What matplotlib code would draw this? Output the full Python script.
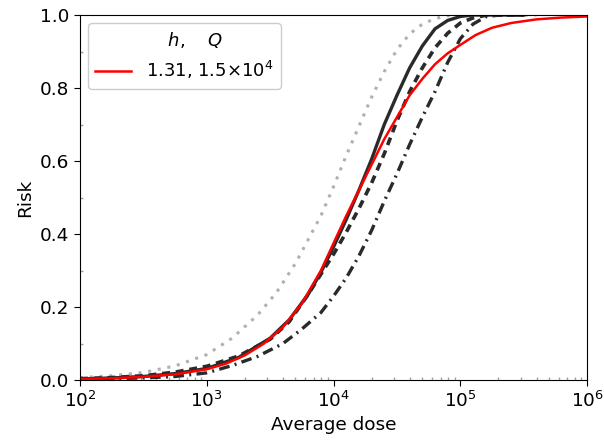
import numpy as np
import matplotlib
matplotlib.use("Agg")
import matplotlib.pyplot as plt

# curves (log10 of average dose, risk)
dotted_logdose = [2.0, 2.25, 2.5, 2.75, 3.0, 3.2, 3.4, 3.55, 3.7, 3.8, 3.9, 4.0, 4.1, 4.2, 4.3, 4.4, 4.5, 4.6, 4.7, 4.8, 4.9, 5.0, 5.6]
dotted_risk = [0.007, 0.012, 0.021, 0.039, 0.07, 0.115, 0.178, 0.24, 0.32, 0.385, 0.45, 0.53, 0.615, 0.695, 0.775, 0.845, 0.905, 0.948, 0.975, 0.99, 0.998, 1.0, 1.0]

solid_logdose = [2.0, 2.25, 2.5, 2.75, 3.0, 3.25, 3.5, 3.65, 3.8, 3.9, 4.0, 4.1, 4.2, 4.3, 4.4, 4.5, 4.6, 4.7, 4.8, 4.9, 5.0, 5.1, 5.5]
solid_risk = [0.003, 0.006, 0.01, 0.018, 0.032, 0.062, 0.115, 0.165, 0.235, 0.295, 0.365, 0.44, 0.52, 0.605, 0.70, 0.78, 0.855, 0.915, 0.962, 0.985, 0.996, 1.0, 1.0]

dashed_logdose = [2.0, 2.25, 2.5, 2.75, 3.0, 3.25, 3.5, 3.65, 3.8, 3.9, 4.0, 4.1, 4.2, 4.3, 4.4, 4.5, 4.6, 4.7, 4.8, 4.9, 5.0, 5.1, 5.2, 5.5]
dashed_risk = [0.004, 0.007, 0.012, 0.022, 0.038, 0.066, 0.112, 0.16, 0.235, 0.29, 0.345, 0.405, 0.47, 0.54, 0.62, 0.71, 0.79, 0.855, 0.91, 0.95, 0.978, 0.992, 0.999, 1.0]

dashdot_logdose = [2.0, 2.25, 2.5, 2.75, 3.0, 3.2, 3.4, 3.6, 3.75, 3.9, 4.0, 4.1, 4.2, 4.3, 4.4, 4.5, 4.6, 4.7, 4.8, 4.9, 5.0, 5.1, 5.2, 5.3, 5.5]
dashdot_risk = [0.002, 0.004, 0.006, 0.01, 0.02, 0.04, 0.065, 0.1, 0.14, 0.185, 0.23, 0.28, 0.34, 0.41, 0.49, 0.565, 0.645, 0.72, 0.79, 0.87, 0.935, 0.975, 0.995, 1.0, 1.0]

red_logdose = [2.0, 2.25, 2.5, 2.75, 3.0, 3.15, 3.3, 3.45, 3.6, 3.75, 3.9, 4.0, 4.1, 4.2, 4.3, 4.4, 4.5, 4.6, 4.7, 4.8, 4.9, 5.0, 5.12, 5.25, 5.4, 5.6, 5.8, 6.0]
red_risk = [0.003, 0.005, 0.009, 0.016, 0.03, 0.045, 0.068, 0.1, 0.145, 0.21, 0.3, 0.375, 0.45, 0.52, 0.59, 0.66, 0.72, 0.78, 0.825, 0.865, 0.895, 0.918, 0.945, 0.965, 0.978, 0.988, 0.993, 0.996]

red_label = r"1.31, 1.5$\times$10$^4$"

fig = plt.figure(figsize=(6.04, 4.41), dpi=100)
ax = fig.add_axes([0.1325, 0.138, 0.8395, 0.828])

ax.plot(np.power(10.0, dotted_logdose), dotted_risk, color="#b0b0b0", ls=(0, (1, 2.2)), lw=2.2)
ax.plot(np.power(10.0, solid_logdose), solid_risk, color="#2a2a2a", ls="-", lw=2.4)
ax.plot(np.power(10.0, dashed_logdose), dashed_risk, color="#2a2a2a", ls=(0, (2.2, 1.6)), lw=2.6)
ax.plot(np.power(10.0, dashdot_logdose), dashdot_risk, color="#2a2a2a", ls=(0, (3.2, 1.6, 0.6, 1.6)), lw=2.4)
ax.plot(np.power(10.0, red_logdose), red_risk, color="red", lw=1.8, label=red_label)

ax.set_xscale("log")
ax.set_xlim(1e2, 1e6)
ax.set_ylim(0, 1.0)
ax.set_yticks([0.0, 0.2, 0.4, 0.6, 0.8, 1.0])
ax.set_yticks(np.arange(0.1, 1.0, 0.2), minor=True)
ax.tick_params(which="major", labelsize=13.3, length=4)
ax.tick_params(which="minor", direction="in", length=2, color="#a0a0a0", width=1)
ax.set_xlabel("Average dose", fontsize=13.3)
ax.set_ylabel("Risk", fontsize=13.3)

leg = ax.legend(loc="upper left", title=r"    $h$,    $Q$", fontsize=13, title_fontsize=13,
                handlelength=2.0, borderaxespad=0.45, framealpha=1, edgecolor="#cccccc")

fig.savefig("out.png", dpi=100)
